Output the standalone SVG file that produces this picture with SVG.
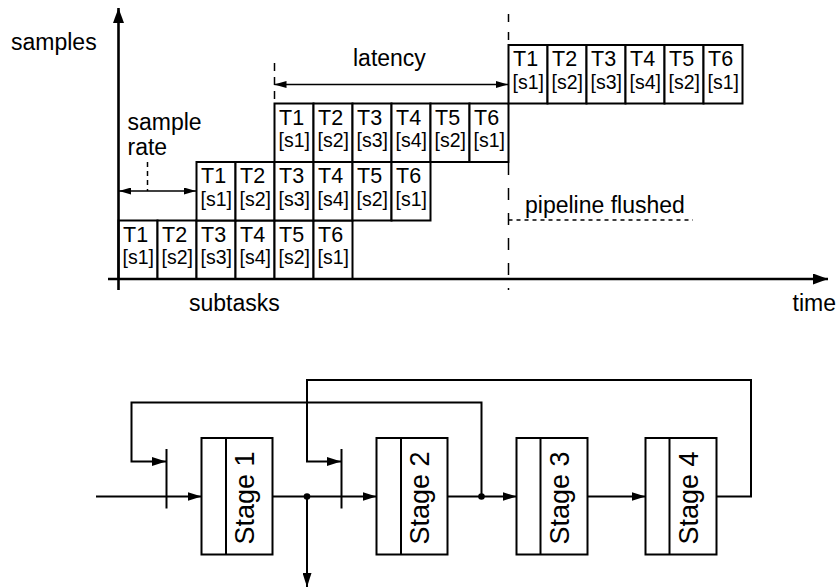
<svg xmlns="http://www.w3.org/2000/svg" width="839" height="588" viewBox="0 0 839 588">
<style>
text { font-family: "Liberation Sans", Arial, Helvetica, sans-serif; fill: #000; }
.lbl { font-size: 23px; }
.t { font-size: 21.5px; }
.s { font-size: 19.5px; }
.stg { font-size: 27px; text-anchor: middle; }
.cell { fill: #fff; stroke: #000; stroke-width: 2; }
.stage { fill: #fff; stroke: #000; stroke-width: 2; }
.ln { fill: none; stroke: #000; stroke-width: 2; }
.axis { fill: none; stroke: #000; stroke-width: 2.6; }
.dim { fill: none; stroke: #000; stroke-width: 1.6; }
.dash { fill: none; stroke: #000; stroke-width: 1.5; }
</style>
<defs>
<marker id="axArrow" markerUnits="userSpaceOnUse" markerWidth="15" markerHeight="11" refX="15" refY="5.5" orient="auto">
<path d="M0,0 L15,5.5 L0,11 z" fill="#000"/>
</marker>
<marker id="dimArrow" markerUnits="userSpaceOnUse" markerWidth="12" markerHeight="7" refX="12" refY="3.5" orient="auto-start-reverse">
<path d="M0,0 L12,3.5 L0,7 z" fill="#000"/>
</marker>
<marker id="arr" markerUnits="userSpaceOnUse" markerWidth="14" markerHeight="9" refX="14" refY="4.5" orient="auto">
<path d="M0,0 L14,4.5 L0,9 z" fill="#000"/>
</marker>
</defs>

<!-- guide / dashed lines -->
<g id="guides">
<path class="dash" d="M508.5,14 L508.5,45" stroke-dasharray="8 10"/>
<path class="dash" d="M508.5,163 L508.5,290" stroke-dasharray="12 13"/>
<path class="dash" d="M274.5,63 L274.5,103.5" stroke-dasharray="8 6"/>
<path class="dash" d="M147.5,162 L147.5,191" stroke-dasharray="5 4"/>
<path class="dash" d="M508.5,220 L693,220" stroke-dasharray="4 4"/>
</g>

<!-- row 1 -->
<g id="row1">
<g id="r1c1"><rect class="cell" x="118.5" y="220.5" width="39" height="58.5"/><text class="t" x="123" y="241.5">T1</text><text class="s" x="122.5" y="264">[s1]</text></g>
<g id="r1c2"><rect class="cell" x="157.5" y="220.5" width="39" height="58.5"/><text class="t" x="162" y="241.5">T2</text><text class="s" x="161.5" y="264">[s2]</text></g>
<g id="r1c3"><rect class="cell" x="196.5" y="220.5" width="39" height="58.5"/><text class="t" x="201" y="241.5">T3</text><text class="s" x="200.5" y="264">[s3]</text></g>
<g id="r1c4"><rect class="cell" x="235.5" y="220.5" width="39" height="58.5"/><text class="t" x="240" y="241.5">T4</text><text class="s" x="239.5" y="264">[s4]</text></g>
<g id="r1c5"><rect class="cell" x="274.5" y="220.5" width="39" height="58.5"/><text class="t" x="279" y="241.5">T5</text><text class="s" x="278.5" y="264">[s2]</text></g>
<g id="r1c6"><rect class="cell" x="313.5" y="220.5" width="39" height="58.5"/><text class="t" x="318" y="241.5">T6</text><text class="s" x="317.5" y="264">[s1]</text></g>
</g>
<!-- row 2 -->
<g id="row2">
<g id="r2c1"><rect class="cell" x="196.5" y="162" width="39" height="58.5"/><text class="t" x="201" y="183">T1</text><text class="s" x="200.5" y="205.5">[s1]</text></g>
<g id="r2c2"><rect class="cell" x="235.5" y="162" width="39" height="58.5"/><text class="t" x="240" y="183">T2</text><text class="s" x="239.5" y="205.5">[s2]</text></g>
<g id="r2c3"><rect class="cell" x="274.5" y="162" width="39" height="58.5"/><text class="t" x="279" y="183">T3</text><text class="s" x="278.5" y="205.5">[s3]</text></g>
<g id="r2c4"><rect class="cell" x="313.5" y="162" width="39" height="58.5"/><text class="t" x="318" y="183">T4</text><text class="s" x="317.5" y="205.5">[s4]</text></g>
<g id="r2c5"><rect class="cell" x="352.5" y="162" width="39" height="58.5"/><text class="t" x="357" y="183">T5</text><text class="s" x="356.5" y="205.5">[s2]</text></g>
<g id="r2c6"><rect class="cell" x="391.5" y="162" width="39" height="58.5"/><text class="t" x="396" y="183">T6</text><text class="s" x="395.5" y="205.5">[s1]</text></g>
</g>
<!-- row 3 -->
<g id="row3">
<g id="r3c1"><rect class="cell" x="274.5" y="103.5" width="39" height="58.5"/><text class="t" x="279" y="124.5">T1</text><text class="s" x="278.5" y="147">[s1]</text></g>
<g id="r3c2"><rect class="cell" x="313.5" y="103.5" width="39" height="58.5"/><text class="t" x="318" y="124.5">T2</text><text class="s" x="317.5" y="147">[s2]</text></g>
<g id="r3c3"><rect class="cell" x="352.5" y="103.5" width="39" height="58.5"/><text class="t" x="357" y="124.5">T3</text><text class="s" x="356.5" y="147">[s3]</text></g>
<g id="r3c4"><rect class="cell" x="391.5" y="103.5" width="39" height="58.5"/><text class="t" x="396" y="124.5">T4</text><text class="s" x="395.5" y="147">[s4]</text></g>
<g id="r3c5"><rect class="cell" x="430.5" y="103.5" width="39" height="58.5"/><text class="t" x="435" y="124.5">T5</text><text class="s" x="434.5" y="147">[s2]</text></g>
<g id="r3c6"><rect class="cell" x="469.5" y="103.5" width="39" height="58.5"/><text class="t" x="474" y="124.5">T6</text><text class="s" x="473.5" y="147">[s1]</text></g>
</g>
<!-- row 4 -->
<g id="row4">
<g id="r4c1"><rect class="cell" x="508.5" y="45" width="39" height="58.5"/><text class="t" x="513" y="66">T1</text><text class="s" x="512.5" y="88.5">[s1]</text></g>
<g id="r4c2"><rect class="cell" x="547.5" y="45" width="39" height="58.5"/><text class="t" x="552" y="66">T2</text><text class="s" x="551.5" y="88.5">[s2]</text></g>
<g id="r4c3"><rect class="cell" x="586.5" y="45" width="39" height="58.5"/><text class="t" x="591" y="66">T3</text><text class="s" x="590.5" y="88.5">[s3]</text></g>
<g id="r4c4"><rect class="cell" x="625.5" y="45" width="39" height="58.5"/><text class="t" x="630" y="66">T4</text><text class="s" x="629.5" y="88.5">[s4]</text></g>
<g id="r4c5"><rect class="cell" x="664.5" y="45" width="39" height="58.5"/><text class="t" x="669" y="66">T5</text><text class="s" x="668.5" y="88.5">[s2]</text></g>
<g id="r4c6"><rect class="cell" x="703.5" y="45" width="39" height="58.5"/><text class="t" x="708" y="66">T6</text><text class="s" x="707.5" y="88.5">[s1]</text></g>
</g>

<!-- axes and dimension arrows -->
<g id="axes">
<line class="axis" x1="118.5" y1="290" x2="118.5" y2="8" marker-end="url(#axArrow)"/>
<line class="axis" x1="108" y1="279" x2="828" y2="279" marker-end="url(#axArrow)"/>
<line class="dim" x1="274.5" y1="84.5" x2="508" y2="84.5" marker-start="url(#dimArrow)" marker-end="url(#dimArrow)"/>
<line class="dim" x1="119" y1="191" x2="196" y2="191" marker-start="url(#dimArrow)" marker-end="url(#dimArrow)"/>
</g>

<g id="labels">
<text class="lbl" x="11" y="50">samples</text>
<text class="lbl" x="353" y="66">latency</text>
<text class="lbl" x="127.5" y="130">sample</text>
<text class="lbl" x="127.5" y="155">rate</text>
<text class="lbl" x="525" y="213">pipeline flushed</text>
<text class="lbl" x="189" y="311">subtasks</text>
<text class="lbl" x="792.5" y="311">time</text>
</g>

<!-- pipeline stages -->
<g id="stage1"><rect class="stage" x="201.5" y="438" width="71" height="116.5"/><line class="ln" x1="226" y1="438" x2="226" y2="554.5"/><text class="stg" transform="translate(254,498) rotate(-90)">Stage 1</text></g>
<g id="stage2"><rect class="stage" x="376.5" y="438" width="71" height="116.5"/><line class="ln" x1="401" y1="438" x2="401" y2="554.5"/><text class="stg" transform="translate(429,498) rotate(-90)">Stage 2</text></g>
<g id="stage3"><rect class="stage" x="516.5" y="438" width="71" height="116.5"/><line class="ln" x1="540.5" y1="438" x2="540.5" y2="554.5"/><text class="stg" transform="translate(568.5,498) rotate(-90)">Stage 3</text></g>
<g id="stage4"><rect class="stage" x="645.5" y="438" width="71" height="116.5"/><line class="ln" x1="669.5" y1="438" x2="669.5" y2="554.5"/><text class="stg" transform="translate(697.5,498) rotate(-90)">Stage 4</text></g>
<g id="register1"><line class="ln" x1="166.5" y1="449" x2="166.5" y2="508.5"/></g>
<g id="register2"><line class="ln" x1="341.5" y1="449" x2="341.5" y2="508.5"/></g>

<g id="connectors">
<path class="ln" d="M96,496.5 L201.5,496.5" marker-end="url(#arr)"/>
<path class="ln" d="M272.5,496.5 L376.5,496.5" marker-end="url(#arr)"/>
<path class="ln" d="M307,496.5 L307,587" marker-end="url(#arr)"/>
<path class="ln" d="M447.5,496.5 L516.5,496.5" marker-end="url(#arr)"/>
<path class="ln" d="M587.5,496.5 L645.5,496.5" marker-end="url(#arr)"/>
<path class="ln" d="M481.5,496.5 L481.5,402.5 L131.5,402.5 L131.5,461.5 L166,461.5" marker-end="url(#arr)"/>
<path class="ln" d="M716.5,496.5 L751,496.5 L751,380 L307,380 L307,461.5 L341,461.5" marker-end="url(#arr)"/>
<circle cx="307" cy="496.5" r="3.3" fill="#000"/>
<circle cx="481.5" cy="496.5" r="3.3" fill="#000"/>
</g>
</svg>
